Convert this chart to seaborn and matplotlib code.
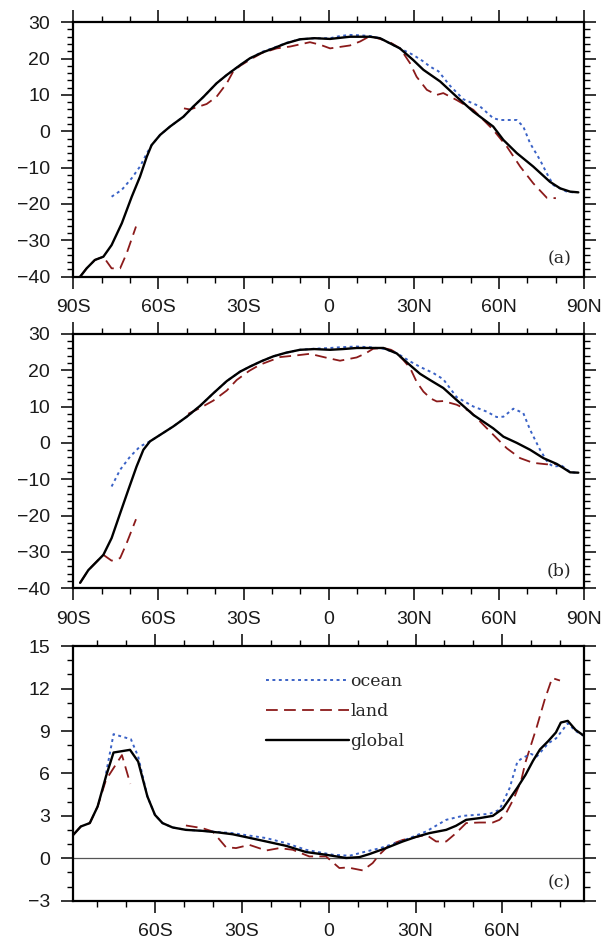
import numpy as np
import matplotlib
matplotlib.use("Agg")
import matplotlib.pyplot as plt
from matplotlib.ticker import MultipleLocator, FixedLocator
from matplotlib.lines import Line2D
import seaborn as sns

# ---- panel (a) ----
glob_a_lat = [-87.6, -85.3, -82.4, -79.4, -76.5, -72.9, -69.4, -66.5, -64.1, -62.4, -59.4, -55.9,
              -51.2, -47.7, -44.2, -39.5, -35.9, -31.2, -27.7, -23.6, -19.5, -15.0, -10.1, -5.0,
              0.5, 4.0, 7.5, 14.6, 18.1, 21.6, 25.1, 29.8, 33.4, 39.3, 45.1, 51.0, 58.0, 61.6,
              66.3, 72.1, 78.0, 81.6, 85.1, 88.0]
glob_a = [-40.0, -37.7, -35.4, -34.5, -31.3, -25.3, -18.0, -12.5, -7.0, -3.8, -1.0, 1.3,
          4.0, 6.8, 9.4, 13.2, 15.5, 18.2, 20.1, 21.6, 22.8, 24.2, 25.3, 25.6,
          25.4, 25.7, 26.0, 26.0, 25.6, 24.2, 22.8, 19.6, 16.9, 13.7, 9.5, 5.4, 1.3, -2.4,
          -6.0, -9.7, -13.9, -15.7, -16.6, -16.8]
ocean_a_lat = [-76.5, -72.9, -69.4, -66.5, -64.1, -62.4, -59.4, -55.9, -51.2, -47.7, -44.2, -39.5,
               -35.9, -31.2, -27.7, -23.6, -19.5, -15.0, -10.1, -5.0, 0.5, 4.0, 7.5, 11.0,
               14.6, 18.1, 22.0, 25.1, 29.8, 33.4, 35.7, 38.7, 42.8, 47.5, 53.4, 58.0, 60.4,
               66.3, 68.6, 71.0, 74.5, 76.9, 79.2, 83.9, 87.4]
ocean_a = [-18.0, -16.1, -12.9, -9.7, -6.1, -3.8, -1.0, 1.3, 4.0, 6.8, 9.4, 13.2,
           15.5, 18.2, 20.0, 21.8, 22.9, 24.3, 25.3, 25.6, 25.6, 26.2, 26.5, 26.4,
           26.2, 25.6, 24.0, 22.8, 21.0, 19.2, 17.8, 16.5, 12.5, 8.8, 6.8, 3.6, 3.1,
           3.1, 1.3, -3.3, -7.9, -11.6, -14.8, -16.6, -16.9]
land_a_s_lat = [-87.6, -85.3, -82.4, -79.4, -76.5, -73.5, -71.2, -67.9]
land_a_s = [-40.0, -37.7, -35.4, -34.5, -37.7, -37.7, -33.6, -26.2]
land_a_n_lat = [-51.0, -48.9, -43.0, -39.5, -35.9, -33.6, -31.2, -27.7, -23.6, -18.3, -13.6, -6.6,
                -3.0, 0.5, 4.0, 7.5, 11.1, 14.6, 19.3, 22.0, 25.2, 28.7, 31.0, 34.6, 38.1,
                40.4, 45.1, 51.0, 58.0, 62.8, 67.5, 72.1, 76.9, 80.1]
land_a_n = [6.3, 6.0, 7.5, 9.5, 13.2, 16.5, 18.0, 19.7, 21.5, 22.8, 23.3, 24.5,
            23.8, 22.8, 23.2, 23.6, 24.7, 26.2, 25.1, 24.3, 22.8, 18.7, 15.0, 11.4, 10.0,
            10.5, 8.6, 5.9, 0.4, -4.2, -9.7, -14.3, -18.3, -18.4]

# ---- panel (b) ----
glob_b_lat = [-87.6, -84.7, -79.4, -76.5, -73.5, -70.6, -67.7, -65.3, -63.0, -59.4, -54.8, -50.0,
              -45.3, -40.7, -35.9, -31.2, -27.7, -23.6, -19.5, -15.0, -10.1, -5.0, 0.5, 5.0,
              9.9, 14.6, 19.3, 24.0, 28.5, 32.2, 35.7, 40.4, 45.1, 51.0, 58.0, 61.6, 66.3,
              71.0, 75.7, 80.4, 82.7, 85.1, 88.0]
glob_b = [-38.5, -35.0, -30.8, -26.2, -19.4, -12.9, -6.5, -1.9, 0.4, 2.2, 4.5, 7.2,
          10.2, 13.6, 17.0, 19.6, 21.0, 22.5, 23.8, 24.8, 25.6, 25.8, 25.6, 25.8,
          26.1, 26.1, 26.1, 24.6, 21.5, 19.0, 17.3, 15.1, 11.8, 7.7, 4.0, 1.7, 0.0,
          -1.9, -4.2, -5.8, -6.9, -8.1, -8.2]
ocean_b_lat = [-76.5, -73.5, -70.0, -66.5, -63.0, -59.4, -54.8, -50.0, -45.3, -40.7, -35.9, -31.2,
               -27.7, -23.6, -19.5, -15.0, -10.1, -5.0, 0.5, 4.0, 9.9, 14.6, 19.3, 24.0,
               28.7, 32.5, 36.9, 40.4, 45.1, 51.0, 55.7, 59.2, 61.6, 65.1, 68.6, 71.0,
               74.5, 77.4, 79.2, 82.2, 85.1, 88.0]
ocean_b = [-12.0, -7.4, -3.8, -1.0, 0.4, 2.2, 4.5, 7.2, 10.2, 13.6, 17.0, 19.6,
           21.0, 22.5, 23.8, 24.8, 25.6, 25.9, 26.1, 26.3, 26.5, 26.3, 25.9, 24.7,
           22.4, 20.8, 19.2, 17.5, 12.6, 10.0, 8.6, 7.1, 7.2, 9.4, 8.2, 3.6,
           -1.9, -5.6, -6.5, -6.3, -8.0, -8.3]
land_b_s_lat = [-87.6, -84.7, -79.4, -76.5, -73.5, -71.2, -67.9]
land_b_s = [-38.5, -35.0, -30.8, -32.4, -31.7, -27.6, -21.0]
land_b_n_lat = [-49.5, -45.3, -40.7, -35.9, -32.4, -28.0, -24.2, -17.1, -12.0, -6.6, -0.7, 4.0,
                9.9, 13.0, 15.7, 19.3, 22.0, 24.0, 26.3, 28.7, 31.0, 33.4, 36.0, 38.1,
                40.4, 45.1, 49.8, 54.5, 59.2, 62.8, 67.5, 72.1, 76.9, 80.4]
land_b_n = [8.0, 9.6, 11.6, 14.4, 17.3, 19.8, 21.5, 23.6, 24.0, 24.5, 23.4, 22.6,
            23.5, 24.6, 25.9, 26.1, 25.6, 24.7, 22.8, 20.6, 16.8, 14.1, 12.2, 11.4,
            11.5, 10.5, 8.7, 5.0, 1.3, -1.5, -4.2, -5.5, -5.9, -5.8]

# ---- panel (c) ----
glob_c_lat = [-88.2, -85.6, -82.5, -79.8, -76.9, -74.3, -68.6, -65.8, -62.6, -60.0, -57.4, -53.9,
              -49.3, -43.6, -37.8, -33.2, -28.6, -21.6, -14.7, -7.8, -0.9, 6.0, 10.6, 14.1,
              19.8, 25.6, 30.0, 34.8, 40.6, 44.0, 47.5, 52.1, 56.7, 60.1, 62.5, 65.2,
              68.0, 70.6, 73.0, 75.9, 78.5, 80.2, 82.6, 85.3, 88.2]
glob_c = [1.66, 2.25, 2.49, 3.66, 5.8, 7.48, 7.67, 6.84, 4.37, 3.07, 2.49, 2.18,
          2.01, 1.94, 1.82, 1.7, 1.5, 1.19, 0.88, 0.44, 0.25, 0.02, 0.08, 0.3,
          0.72, 1.19, 1.5, 1.78, 2.01, 2.3, 2.72, 2.84, 3.0, 3.5, 4.2, 5.0,
          5.9, 6.9, 7.7, 8.3, 8.9, 9.6, 9.72, 9.08, 8.66]
ocean_c_lat = [-76.9, -74.3, -68.3, -65.8, -62.6, -60.0, -57.4, -53.9, -49.3, -44.7, -33.2, -21.6,
               -14.7, -7.8, 1.4, 7.2, 12.9, 17.5, 19.8, 25.6, 33.7, 40.6, 46.3, 55.5,
               59.0, 62.5, 65.2, 67.0, 69.9, 71.9, 75.9, 78.6, 82.6, 85.3, 88.2]
ocean_c = [6.0, 8.78, 8.42, 7.2, 4.37, 3.07, 2.49, 2.18, 2.01, 1.96, 1.78, 1.43,
           1.07, 0.6, 0.25, 0.18, 0.48, 0.7, 0.85, 1.24, 1.9, 2.72, 3.0, 3.14,
           3.43, 4.96, 6.84, 7.1, 7.38, 7.2, 8.14, 8.49, 9.55, 9.0, 8.66]
land_c_s_lat = [-88.2, -85.6, -82.5, -79.8, -76.9, -74.7, -71.4, -68.5]
land_c_s = [1.66, 2.25, 2.49, 3.66, 5.55, 6.25, 7.3, 5.26]
land_c_n_lat = [-49.3, -43.6, -40.1, -35.5, -32.0, -27.4, -21.6, -17.0, -12.4, -6.7, -0.9, 3.7,
                6.6, 11.8, 15.2, 17.5, 21.0, 25.6, 33.7, 37.1, 40.6, 44.0, 47.5, 52.1,
                56.7, 59.0, 61.3, 63.9, 66.5, 68.0, 71.9, 74.6, 77.2, 79.9]
land_c_n = [2.32, 2.13, 1.9, 0.79, 0.72, 0.95, 0.55, 0.72, 0.6, 0.13, 0.13, -0.69,
            -0.65, -0.86, -0.34, 0.25, 0.95, 1.3, 1.66, 1.19, 1.19, 1.78, 2.49, 2.53,
            2.53, 2.72, 3.2, 4.2, 5.5, 6.8, 9.3, 11.2, 12.75, 12.57]

lat_ticks = [-90, -60, -30, 0, 30, 60, 90]
lat_labels = ["90S", "60S", "30S", "0", "30N", "60N", "90N"]
labels_abc = ["(a)", "(b)", "(c)"]

OCEAN_COL = "#3a62c6"
LAND_COL = "#8b1a1a"
GLOB_COL = "black"

sns.set_theme(style="ticks")
plt.rcParams["font.family"] = ["Liberation Sans", "DejaVu Sans"]

fig = plt.figure(figsize=(6.05, 9.43), dpi=100)
ax_w = 510.7 / 605
left = 73.3 / 605
ax_h = 254.5 / 943
bottoms = [1 - 276.7 / 943, 1 - 588.3 / 943, 1 - 900.7 / 943]
axes = [fig.add_axes([left, b, ax_w, ax_h]) for b in bottoms]


def line(ax, x, y, color, ls, lw):
    sns.lineplot(x=x, y=y, ax=ax, color=color, linestyle=ls, linewidth=lw,
                 sort=False, estimator=None)


dot = (0, (1.5, 1.8))
dash = (0, (6.5, 3.5))

panels = [
    (glob_a_lat, glob_a, ocean_a_lat, ocean_a, [(land_a_s_lat, land_a_s), (land_a_n_lat, land_a_n)]),
    (glob_b_lat, glob_b, ocean_b_lat, ocean_b, [(land_b_s_lat, land_b_s), (land_b_n_lat, land_b_n)]),
    (glob_c_lat, glob_c, ocean_c_lat, ocean_c, [(land_c_s_lat, land_c_s), (land_c_n_lat, land_c_n)]),
]

for i, (ax, (gl, gv, ol, ov, lands)) in enumerate(zip(axes, panels)):
    if i == 2:
        ax.axhline(0, color="#555555", lw=0.9, zorder=1)
    for ll, lv in lands:
        line(ax, ll, lv, LAND_COL, dash, 1.3)
    line(ax, ol, ov, OCEAN_COL, dot, 1.4)
    line(ax, gl, gv, GLOB_COL, "-", 1.7)

    if i < 2:
        ax.set_xlim(-90, 90)
        ax.set_ylim(-40, 30)
        ax.xaxis.set_major_locator(FixedLocator(lat_ticks))
        ax.set_xticklabels(lat_labels)
        ax.xaxis.set_minor_locator(MultipleLocator(10))
        ax.yaxis.set_major_locator(MultipleLocator(10))
        ax.yaxis.set_minor_locator(MultipleLocator(2))
    else:
        ax.set_xlim(-88.2, 88.2)
        ax.set_ylim(-3, 15)
        ax.xaxis.set_major_locator(FixedLocator(lat_ticks[1:-1]))
        ax.set_xticklabels(lat_labels[1:-1])
        ax.xaxis.set_minor_locator(FixedLocator(list(range(-80, 90, 10))))
        ax.yaxis.set_major_locator(MultipleLocator(3))
        ax.yaxis.set_minor_locator(MultipleLocator(1))

    ax.tick_params(which="both", direction="out", top=True, right=True,
                   labeltop=False, labelright=False, color="black")
    ax.tick_params(which="major", length=8.6, width=1.1, labelsize=14, labelcolor="#1a1a1a")
    ax.tick_params(axis="x", which="major", pad=7.5)
    ax.tick_params(axis="y", which="major", pad=8)
    ax.tick_params(which="minor", length=4.3, width=1.0)
    for sp in ax.spines.values():
        sp.set_linewidth(1.6)
        sp.set_color("black")
    ax.set_xlabel("")
    ax.set_ylabel("")
    ax.text(0.975, 0.07, labels_abc[i], transform=ax.transAxes, ha="right", va="center",
            fontsize=12.5, family="DejaVu Serif")

handles = [
    Line2D([], [], color=OCEAN_COL, linestyle=dot, lw=1.4),
    Line2D([], [], color=LAND_COL, linestyle=dash, lw=1.3),
    Line2D([], [], color=GLOB_COL, linestyle="-", lw=1.7),
]
axes[2].legend(handles, ["ocean", "land", "global"], loc="upper left",
               bbox_to_anchor=(0.36, 0.93), frameon=False, borderpad=0,
               handlelength=4.8, handletextpad=0.05, labelspacing=0.75,
               prop={"family": "DejaVu Serif", "size": 12.5})

fig.savefig("out.png", dpi=100)
